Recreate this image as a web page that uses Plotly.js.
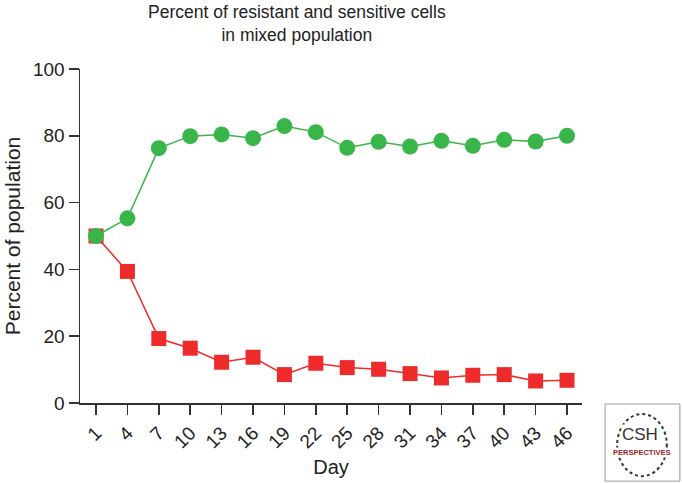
<!DOCTYPE html>
<html><head><meta charset="utf-8">
<script src="https://cdn.plot.ly/plotly-3.0.1.min.js"></script>
<style>body{margin:0;background:#fff}#chart{width:682px;height:483px}</style>
</head><body><div id="chart"></div>
<script>
const days = [1,4,7,10,13,16,19,22,25,28,31,34,37,40,43,46];
const resistant = [50,55.3,76.3,79.9,80.4,79.3,82.9,81.1,76.4,78.2,76.8,78.5,77,78.8,78.3,80];
const sensitive = [50,39.4,19.3,16.4,12.2,13.7,8.5,11.9,10.6,10.1,8.8,7.5,8.3,8.5,6.6,6.8];
const yTicks = [0,20,40,60,80,100];

const font = 'Liberation Sans, Arial, sans-serif';
const traces = [
  {x: days, y: sensitive, mode: 'lines+markers', type: 'scatter',
   line: {color: '#ee2b2b', width: 1.5},
   marker: {symbol: 'square', size: 15, color: '#ee2b2b'}, cliponaxis: false},
  {x: days, y: resistant, mode: 'lines+markers', type: 'scatter',
   line: {color: '#39b54a', width: 1.5},
   marker: {symbol: 'circle', size: 16, color: '#39b54a'}, cliponaxis: false}
];
const layout = {
  width: 682, height: 483,
  margin: {l: 80, r: 100, t: 69, b: 80},
  paper_bgcolor: '#fff', plot_bgcolor: '#fff',
  showlegend: false,
  font: {family: font, color: '#222', size: 19},
  xaxis: {range: [-0.53, 47.43], tickmode: 'array', tickvals: days, ticktext: days.map(String),
          tickangle: -45, ticks: 'outside', ticklen: 10, tickwidth: 1.5, tickcolor: '#333',
          showline: true, linecolor: '#333', linewidth: 1.5, showgrid: false, zeroline: false,
          tickfont: {size: 19, color: '#222'},
          title: {text: 'Day', font: {size: 20, color: '#222'}, standoff: 8}},
  yaxis: {range: [0, 100], tickmode: 'array', tickvals: yTicks,
          ticks: 'outside', ticklen: 10, tickwidth: 1.5, tickcolor: '#333',
          showline: true, linecolor: '#333', linewidth: 1.5, showgrid: false, zeroline: false,
          tickfont: {size: 19, color: '#222'},
          title: {text: 'Percent of population', font: {size: 21, color: '#222'}, standoff: 6}},
  shapes: [
    {type: 'rect', xref: 'paper', yref: 'paper', x0: 1.046, x1: 1.195, y0: -0.234, y1: -0.003,
     line: {color: '#999', width: 1}, fillcolor: '#fff'},
    {type: 'circle', xref: 'paper', yref: 'paper', x0: 1.070, x1: 1.169, y0: -0.219, y1: -0.033,
     line: {color: '#333', width: 2, dash: 'dot'}}
  ],
  annotations: [
    {xref: 'paper', yref: 'paper', x: 0.432, y: 1.135, xanchor: 'center', yanchor: 'middle', showarrow: false,
     text: 'Percent of resistant and sensitive cells<br>in mixed population',
     font: {family: font, size: 17.5, color: '#222'}},
    {xref: 'paper', yref: 'paper', x: 1.1155, y: -0.093, xanchor: 'center', yanchor: 'middle', text: 'CSH', showarrow: false,
     bgcolor: '#fff', borderpad: 0,
     font: {family: font, size: 17, color: '#333'}},
    {xref: 'paper', yref: 'paper', x: 1.1195, y: -0.147, xanchor: 'center', yanchor: 'middle', text: '<b>PERSPECTIVES</b>', showarrow: false,
     bgcolor: '#fff', borderpad: 0,
     font: {family: 'Liberation Sans Narrow, Liberation Sans, sans-serif', size: 7.5, color: '#a01e24'}}
  ]
};
Plotly.newPlot('chart', traces, layout, {displayModeBar: false, staticPlot: true});
</script></body></html>
